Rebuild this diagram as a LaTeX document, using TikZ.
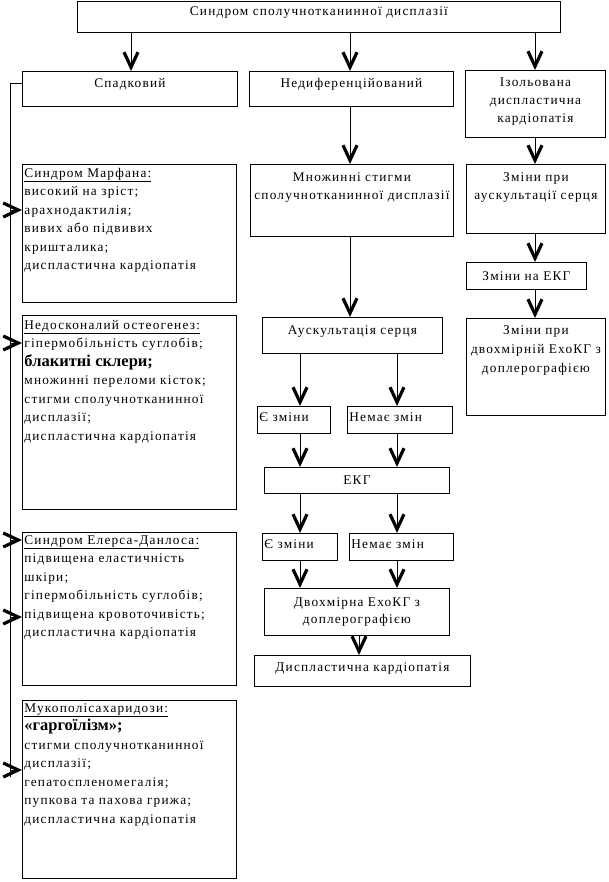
\documentclass[tikz,border=0pt]{standalone}
\usepackage{fontspec}
\setmainfont{Liberation Serif}[LetterSpace=9]
\usetikzlibrary{arrows.meta}

\begin{document}
\begin{tikzpicture}[
      x=1pt, y=-1pt,
      box/.style={draw, line width=0.8pt, anchor=north west, inner xsep=2pt, inner ysep=0pt,
        text height=16pt, font=\fontsize{13.3}{18}\selectfont},
      mid/.style={box, align=center},
      lst/.style={box, align=left, text height=13pt, font=\fontsize{13.3}{18.5}\selectfont},
      arr/.style={line width=0.8pt, -{Straight Barb[length=15pt, width=14pt, line width=3.2pt]}}
    ]
      \useasboundingbox (0,0) rectangle (608,882);
      % columns of the connectors
      \coordinate (c1) at (131,0);
      \coordinate (c2) at (350,0);
      \coordinate (c3) at (535,0);
      \coordinate (c4) at (359,0);
      \coordinate (cl) at (300,0);
      \coordinate (cr) at (397,0);
      % top and first row
      \node[mid, text width=479pt, text height=14pt, text depth=17pt] (top) at (77,1) {Синдром сполучнотканинної дисплазії};
      \node[mid, text width=211pt, text depth=19pt] (spad) at (22,71) {Спадковий};
      \node[mid, text width=200pt, text depth=19pt] (nedyf) at (249,71) {Недиференційований};
      \node[mid, text width=136pt, text depth=51pt] (izol) at (465,70) {Ізольована\\ диспластична\\ кардіопатія};
      % left column
      \node[lst, text width=210pt, text depth=125pt] (marf) at (22,164)
        {\underline{Синдром Марфана:}\\ високий на зріст;\\ арахнодактилія;\\ вивих або підвивих\\ кришталика;\\ диспластична кардіопатія};
      \node[lst, text width=210pt, text height=14pt, text depth=180pt] (nedos) at (22,315)
        {\underline{Недосконалий остеогенез:}\\ гіпермобільність суглобів;\\ {\fontsize{16.5}{18.5}\selectfont\bfseries\addfontfeature{LetterSpace=0}блакитні склери;}\\ множинні переломи кісток;\\ стигми сполучнотканинної\\ дисплазії;\\ диспластична кардіопатія};
      \node[lst, text width=210pt, text height=12pt, text depth=141pt] (elers) at (22,532)
        {\underline{Синдром Елерса-Данлоса:}\\ підвищена еластичність\\ шкіри;\\ гіпермобільність суглобів;\\ підвищена кровоточивість;\\ диспластична кардіопатія};
      \node[lst, text width=210pt, text height=12pt, text depth=166pt] (muko) at (22,700)
        {\underline{Мукополісахаридози:}\\ {\fontsize{16.5}{18.5}\selectfont\bfseries\addfontfeature{LetterSpace=0}«гаргоїлізм»;}\\ стигми сполучнотканинної\\ дисплазії;\\ гепатоспленомегалія;\\ пупкова та пахова грижа;\\ диспластична кардіопатія};
      % middle column
      \node[mid, inner xsep=0pt, text width=203pt, text height=17pt, text depth=55pt] (mnoz) at (250,164) {Множинні стигми\\ сполучнотканинної дисплазії};
      \node[mid, text width=176pt, text height=17pt, text depth=19pt] (ausk) at (262,317) {Аускультація серця};
      \node[box, text width=69pt, text height=15pt, text depth=12pt] (ye1) at (257,406) {Є зміни};
      \node[box, text width=101pt, text height=15pt, text depth=12pt] (nema1) at (347,406) {Немає змін};
      \node[mid, text width=181pt, text height=17pt, text depth=9pt] (ekg) at (264,467) {ЕКГ};
      \node[box, text width=71pt, text height=15pt, text depth=12pt] (ye2) at (262,533) {Є зміни};
      \node[box, text width=100pt, text height=15pt, text depth=12pt] (nema2) at (349,533) {Немає змін};
      \node[mid, text width=181pt, text height=18pt, text depth=29pt, font=\fontsize{13.3}{17}\selectfont] (dvo) at (264,588) {Двохмірна ЕхоКГ з\\ доплерографією};
      \node[mid, text width=212pt, text depth=15pt] (disp) at (254,655) {Диспластична кардіопатія};
      % right column
      \node[mid, text width=135pt, text height=17pt, text depth=52pt] (zm1) at (466,164) {Зміни при\\ аускультації серця};
      \node[mid, text width=116pt, text height=18pt, text depth=9pt] (zm2) at (466,262) {Зміни на ЕКГ};
      \node[mid, text width=135pt, text depth=81pt, font=\fontsize{13.3}{19}\selectfont] (zm3) at (466,318) {Зміни при\\ двохмірній ЕхоКГ з\\ доплерографією};
      % connectors
      \draw[arr] (top.south -| c1) -- (spad.north -| c1);
      \draw[arr] (top.south -| c2) -- (nedyf.north -| c2);
      \draw[arr] (top.south -| c3) -- (izol.north -| c3);
      \draw[arr] (nedyf.south -| c2) -- (mnoz.north -| c2);
      \draw[arr] (mnoz.south -| c2) -- (ausk.north -| c2);
      \draw[arr] (izol.south -| c3) -- (zm1.north -| c3);
      \draw[arr] (zm1.south -| c3) -- (zm2.north -| c3);
      \draw[arr] (zm2.south -| c3) -- (zm3.north -| c3);
      \draw[arr] (ausk.south -| cl) -- (ye1.north -| cl);
      \draw[arr] (ausk.south -| cr) -- (nema1.north -| cr);
      \draw[arr] (ye1.south -| cl) -- (ekg.north -| cl);
      \draw[arr] (nema1.south -| cr) -- (ekg.north -| cr);
      \draw[arr] (ekg.south -| cl) -- (ye2.north -| cl);
      \draw[arr] (ekg.south -| cr) -- (nema2.north -| cr);
      \draw[arr] (ye2.south -| cl) -- (dvo.north -| cl);
      \draw[arr] (nema2.south -| cr) -- (dvo.north -| cr);
      \draw[arr] (dvo.south -| c4) -- (disp.north -| c4);
      % spine on the left
      \coordinate (sp) at (10,83);
      \coordinate (sb) at (10,777);
      \draw[line width=0.8pt] (spad.west |- sp) -- (sp) -- (sb);
      \coordinate (r1) at (10,210);
      \coordinate (r2) at (10,343);
      \coordinate (r3) at (10,540);
      \coordinate (r4) at (10,617);
      \coordinate (r5) at (10,770);
      \draw[arr] (r1) -- (r1 -| marf.west);
      \draw[arr] (r2) -- (r2 -| nedos.west);
      \draw[arr] (r3) -- (r3 -| elers.west);
      \draw[arr] (r4) -- (r4 -| elers.west);
      \draw[arr] (r5) -- (r5 -| muko.west);
    \end{tikzpicture}
\end{document}
